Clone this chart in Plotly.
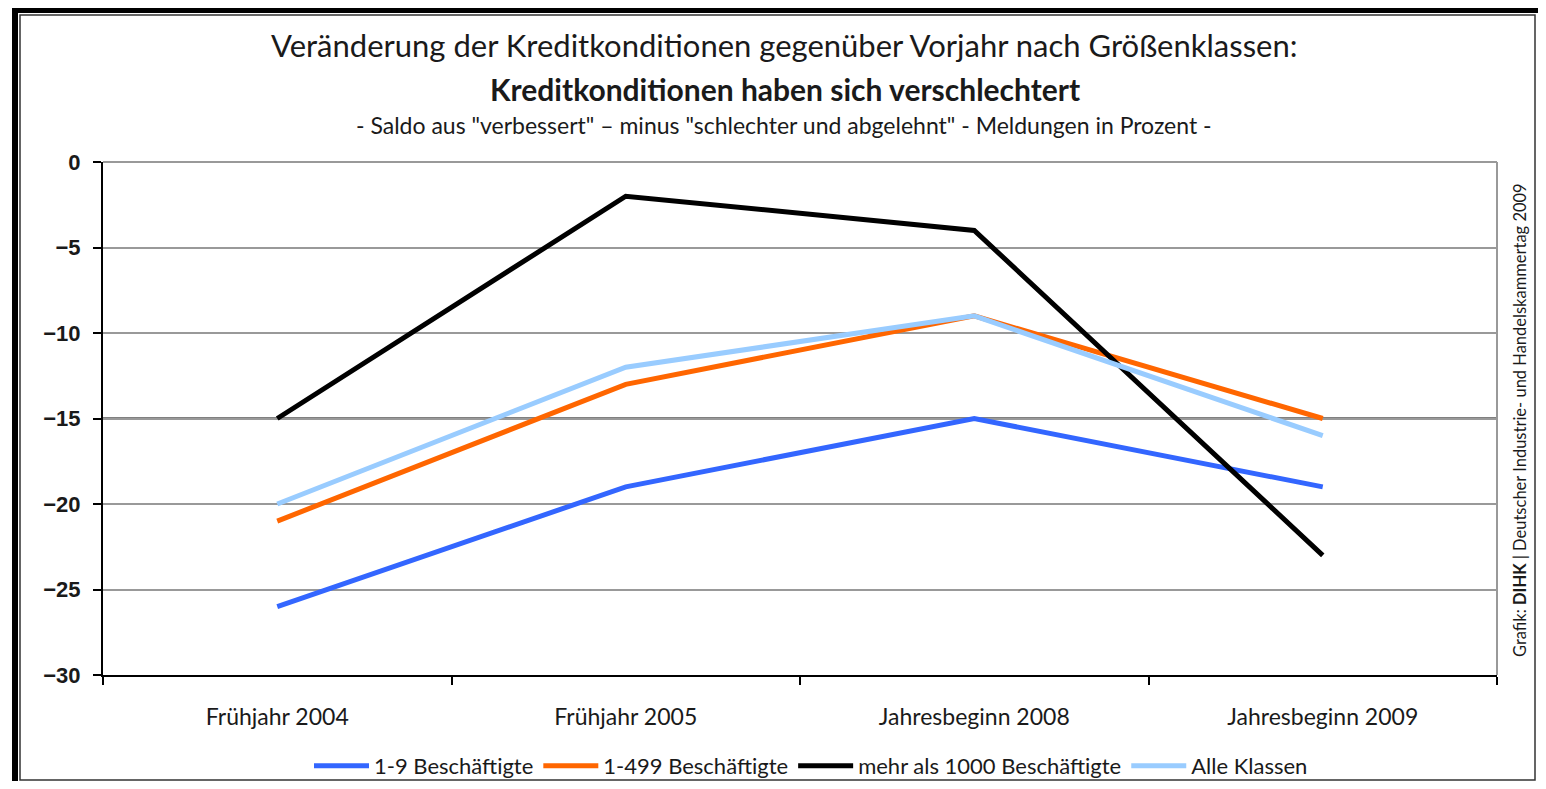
import plotly.graph_objects as go

# Daten
perioden = ["Frühjahr 2004", "Frühjahr 2005", "Jahresbeginn 2008", "Jahresbeginn 2009"]
klein = [-26, -19, -15, -19]          # 1-9 Beschäftigte
mittel = [-21, -13, -9, -15]          # 1-499 Beschäftigte
gross = [-15, -2, -4, -23]            # mehr als 1000 Beschäftigte
alle = [-20, -12, -9, -16]            # Alle Klassen

namen = ["1-9 Beschäftigte", "1-499 Beschäftigte", "mehr als 1000 Beschäftigte", "Alle Klassen"]
farben = ["#3366ff", "#ff6600", "#000000", "#99ccff"]
ytick = [0, -5, -10, -15, -20, -25, -30]

# the page body has an 8px margin, so the figure is made 16px smaller
OFF = 8
W, H = 1546 - 2 * OFF, 789 - 2 * OFF
ML, MT = 103 - OFF, 162 - OFF
MR, MB = W - (1497 - OFF), H - (675 - OFF)
PW, PH = W - ML - MR, H - MT - MB
FONT = "Lato"
TXT = "#1a1a1a"


# reference pixel -> paper coords
def px(x):
    return (x - OFF - ML) / PW


def py(y):
    return (H - MB - (y - OFF)) / PH


fig = go.Figure()
for name, vals, col in zip(namen, [klein, mittel, gross, alle], farben):
    fig.add_trace(go.Scatter(x=perioden, y=vals, name=name, mode="lines",
                             line=dict(color=col, width=5)))

fig.update_layout(
    width=W, height=H,
    margin=dict(l=ML, r=MR, t=MT, b=MB, autoexpand=False),
    paper_bgcolor="white", plot_bgcolor="white",
    font=dict(family=FONT, color=TXT),
    showlegend=True,
    legend=dict(orientation="h", x=px(811), xanchor="center", y=py(OFF + H + 6), yanchor="bottom",
                font=dict(size=22, color=TXT), itemwidth=55, tracegroupgap=0,
                bgcolor="rgba(0,0,0,0)", borderwidth=0),
)
fig.update_xaxes(type="category", tickson="boundaries", ticks="outside", ticklen=8,
                 tickwidth=2, tickcolor="black", showline=True, linecolor="black",
                 linewidth=2, showgrid=False, tickfont=dict(size=23, color=TXT),
                 ticklabelstandoff=20, range=[-0.5, 3.5], fixedrange=True, automargin=False)
fig.update_yaxes(range=[-30, 0], tickvals=ytick, ticktext=[str(v).replace("-", "\u2212") for v in ytick],
                 ticks="outside", ticklen=8, tickwidth=2, tickcolor="black",
                 showline=True, linecolor="black", linewidth=2,
                 showgrid=True, gridcolor="#999999", gridwidth=2, zeroline=False,
                 tickfont=dict(family="Liberation Sans", size=22, color=TXT, weight="bold"),
                 ticklabelstandoff=8, automargin=False)

# Rahmen der Zeichenfläche und Rahmen der Grafik
shapes = [
    dict(type="line", xref="paper", yref="paper", x0=1, x1=1, y0=0, y1=1,
         line=dict(color="#999999", width=2)),
    dict(type="line", xref="paper", yref="paper", x0=0, x1=1, y0=1, y1=1,
         line=dict(color="#999999", width=2)),
    dict(type="line", xref="paper", yref="y", x0=0, x1=1, y0=-15, y1=-15,
         line=dict(color="#808080", width=3), layer="below"),
    dict(type="rect", xref="paper", yref="paper", x0=px(12), x1=px(18), y0=py(H + 30), y1=py(0),
         fillcolor="black", line=dict(width=0)),
    dict(type="rect", xref="paper", yref="paper", x0=px(12), x1=px(W + 30), y0=py(13), y1=py(0),
         fillcolor="black", line=dict(width=0)),
    dict(type="rect", xref="paper", yref="paper", x0=px(20), x1=px(1535), y0=py(780), y1=py(15),
         fillcolor="rgba(0,0,0,0)", line=dict(color="#333333", width=1.5)),
]
fig.update_layout(shapes=shapes)

annos = [
    dict(text="Veränderung der Kreditkonditionen gegenüber Vorjahr nach Größenklassen:",
         x=px(784), y=py(45), font=dict(size=31, color=TXT)),
    dict(text="<b>Kreditkonditionen haben sich verschlechtert</b>",
         x=px(785), y=py(89), font=dict(size=30, color=TXT)),
    dict(text="- Saldo aus \"verbessert\" – minus \"schlechter und abgelehnt\" - Meldungen in Prozent -",
         x=px(784), y=py(125), font=dict(size=23, color=TXT)),
    dict(text="Grafik: <b>DIHK</b> | Deutscher Industrie- und Handelskammertag 2009",
         x=px(1520), y=py(420), textangle=-90, font=dict(size=16.5, color=TXT)),
]
for a in annos:
    fig.add_annotation(xref="paper", yref="paper", showarrow=False,
                       xanchor="center", yanchor="middle", **a)

fig.write_html("out.html")
